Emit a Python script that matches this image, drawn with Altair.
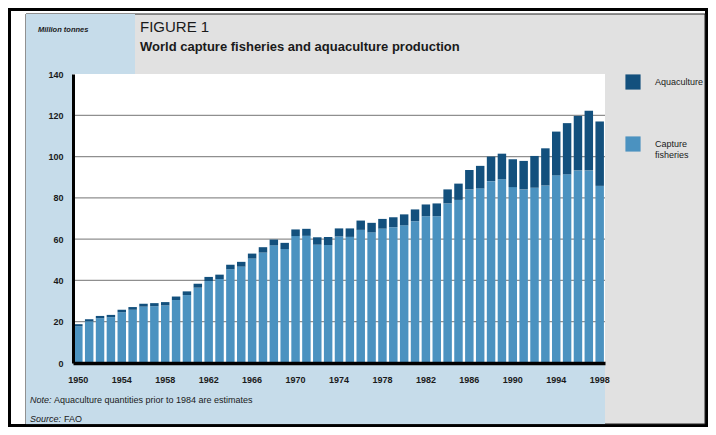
import altair as alt
import pandas as pd

# ---------------- data ----------------
years = list(range(1950, 1999))
capture = [17.8, 20.2, 21.7, 22.2, 24.6, 25.8, 27.3, 27.5, 27.9, 30.5,
           32.9, 36.5, 39.7, 40.7, 45.4, 46.7, 50.6, 53.5, 57.0, 55.2,
           61.5, 61.6, 57.3, 57.2, 61.3, 61.1, 64.5, 63.3, 65.1, 65.8,
           66.7, 68.7, 71.1, 71.1, 77.3, 79.0, 84.1, 84.6, 88.1, 89.0,
           85.2, 84.1, 84.9, 86.0, 90.9, 91.4, 93.3, 93.3, 85.8]
aquaculture = [1.0, 1.0, 1.1, 1.1, 1.2, 1.3, 1.4, 1.5, 1.6, 1.7,
               1.8, 1.9, 2.0, 2.1, 2.2, 2.3, 2.4, 2.6, 2.8, 3.0,
               3.2, 3.4, 3.6, 3.8, 3.9, 4.1, 4.5, 4.6, 4.7, 4.8,
               5.3, 5.7, 5.7, 6.2, 6.8, 7.9, 9.4, 10.9, 11.9, 12.4,
               13.5, 13.8, 15.4, 18.0, 21.2, 24.8, 26.4, 28.9, 31.2]
series_names = ["Aquaculture", "Capture fisheries"]
series_colors = ["#13507d", "#4b92c0"]
y_ticks = [0, 20, 40, 60, 80, 100, 120, 140]
grid_values = [20, 40, 60, 80, 100, 120]
x_label_years = list(range(1950, 1999, 4))

rows = []
for yr, c, a in zip(years, capture, aquaculture):
    rows.append({"year": yr, "series": "Capture fisheries", "value": c, "ord": 0})
    rows.append({"year": yr, "series": "Aquaculture", "value": a, "ord": 1})
df = pd.DataFrame(rows)
grid_df = pd.DataFrame({"value": grid_values})
dummy = pd.DataFrame({"d": [0]})

FONT = "'Liberation Sans Narrow', 'Liberation Sans', Arial, sans-serif"
W, H = 532, 289
BLUE_BG = "#c6dcea"
GREY_BG = "#e1e1e1"

y_scale = alt.Scale(domain=[0, 140], nice=False)
y_axis = alt.Axis(values=y_ticks, title=None, grid=False, ticks=False,
                  domainColor="black", domainWidth=3,
                  labelFont=FONT, labelFontSize=9, labelFontWeight="bold",
                  labelColor="#1a1a1a", labelPadding=10, zindex=1)


def box(x, x2, y, y2, fill, stroke=None, sw=0):
    kw = dict(fill=fill)
    if stroke:
        kw.update(stroke=stroke, strokeWidth=sw)
    return alt.Chart(dummy).mark_rect(**kw).encode(
        x=alt.value(x), x2=alt.value(x2), y=alt.value(y), y2=alt.value(y2))


def text(s, x, y, size=9, weight="normal", style="normal", align="left",
         baseline="alphabetic", color="#1a1a1a"):
    return alt.Chart(dummy).mark_text(
        text=s, font=FONT, fontSize=size, fontWeight=weight, fontStyle=style,
        align=align, baseline=baseline, color=color).encode(
        x=alt.value(x), y=alt.value(y))


# frame and background panels (plot origin is page (73, 74))
outer = box(-63.5, 633.5, -64.5, 351.5, "white", "black", 3)
inner = box(-47, 632, -60, 350, GREY_BG, "#222222", 1)
blue_head = box(-47, 62, -60, 0, BLUE_BG)
blue_left = box(-47, 0, 0, H, BLUE_BG)
blue_bottom = box(-47, W, H, 350, BLUE_BG)
white_plot = box(0, W, 0, H, "white")

grid = alt.Chart(grid_df).mark_rule(color="#8f8f8f", strokeWidth=1.3).encode(
    y=alt.Y("value:Q", scale=y_scale, axis=y_axis),
    x=alt.value(0), x2=alt.value(W))

bars = alt.Chart(df).mark_bar().encode(
    x=alt.X("year:O",
            scale=alt.Scale(paddingInner=0.22, paddingOuter=0.1),
            axis=alt.Axis(values=x_label_years, title=None, labelAngle=0,
                          ticks=False, domainColor="black", domainWidth=3.5,
                          labelFont=FONT, labelFontSize=9, labelFontWeight="bold",
                          labelColor="#1a1a1a", labelPadding=12, zindex=1)),
    y=alt.Y("value:Q", stack="zero", scale=y_scale, axis=y_axis),
    color=alt.Color("series:N",
                    scale=alt.Scale(domain=series_names, range=series_colors),
                    legend=alt.Legend(orient="none", legendX=552, legendY=0,
                                      title=None, symbolType="square",
                                      symbolSize=230, symbolStrokeWidth=0,
                                      symbolOpacity=1, labelFont=FONT,
                                      labelFontSize=9, labelColor="#1a1a1a",
                                      labelOffset=14, labelLimit=200,
                                      rowPadding=46, padding=0,
                                      labelExpr="datum.label == 'Capture fisheries' ? ['Capture', 'fisheries'] : datum.label")),
    order=alt.Order("ord:Q"))

texts = [
    text("Million tonnes", -35, -42, size=7.5, weight="bold", style="italic"),
    text("FIGURE 1", 67, -42, size=15),
    text("World capture fisheries and aquaculture production", 67, -23,
         size=13, weight="bold"),
    text("Note:", -43, 326, size=9, style="italic", baseline="middle"),
    text("Aquaculture quantities prior to 1984 are estimates", -19, 326,
         size=9, baseline="middle"),
    text("Source:", -43, 345, size=9, style="italic", baseline="middle"),
    text("FAO", -9, 345, size=9, baseline="middle"),
]

chart = alt.layer(outer, inner, blue_head, blue_left, blue_bottom, white_plot,
                  grid, bars, *texts).properties(
    width=W, height=H,
    autosize=alt.AutoSizeParams(type="none"),
    padding={"left": 65, "top": 66, "right": 103, "bottom": 64},
).configure_view(stroke=None).configure(background="white")

chart.save("out.html", embed_options={"renderer": "svg", "actions": False})
